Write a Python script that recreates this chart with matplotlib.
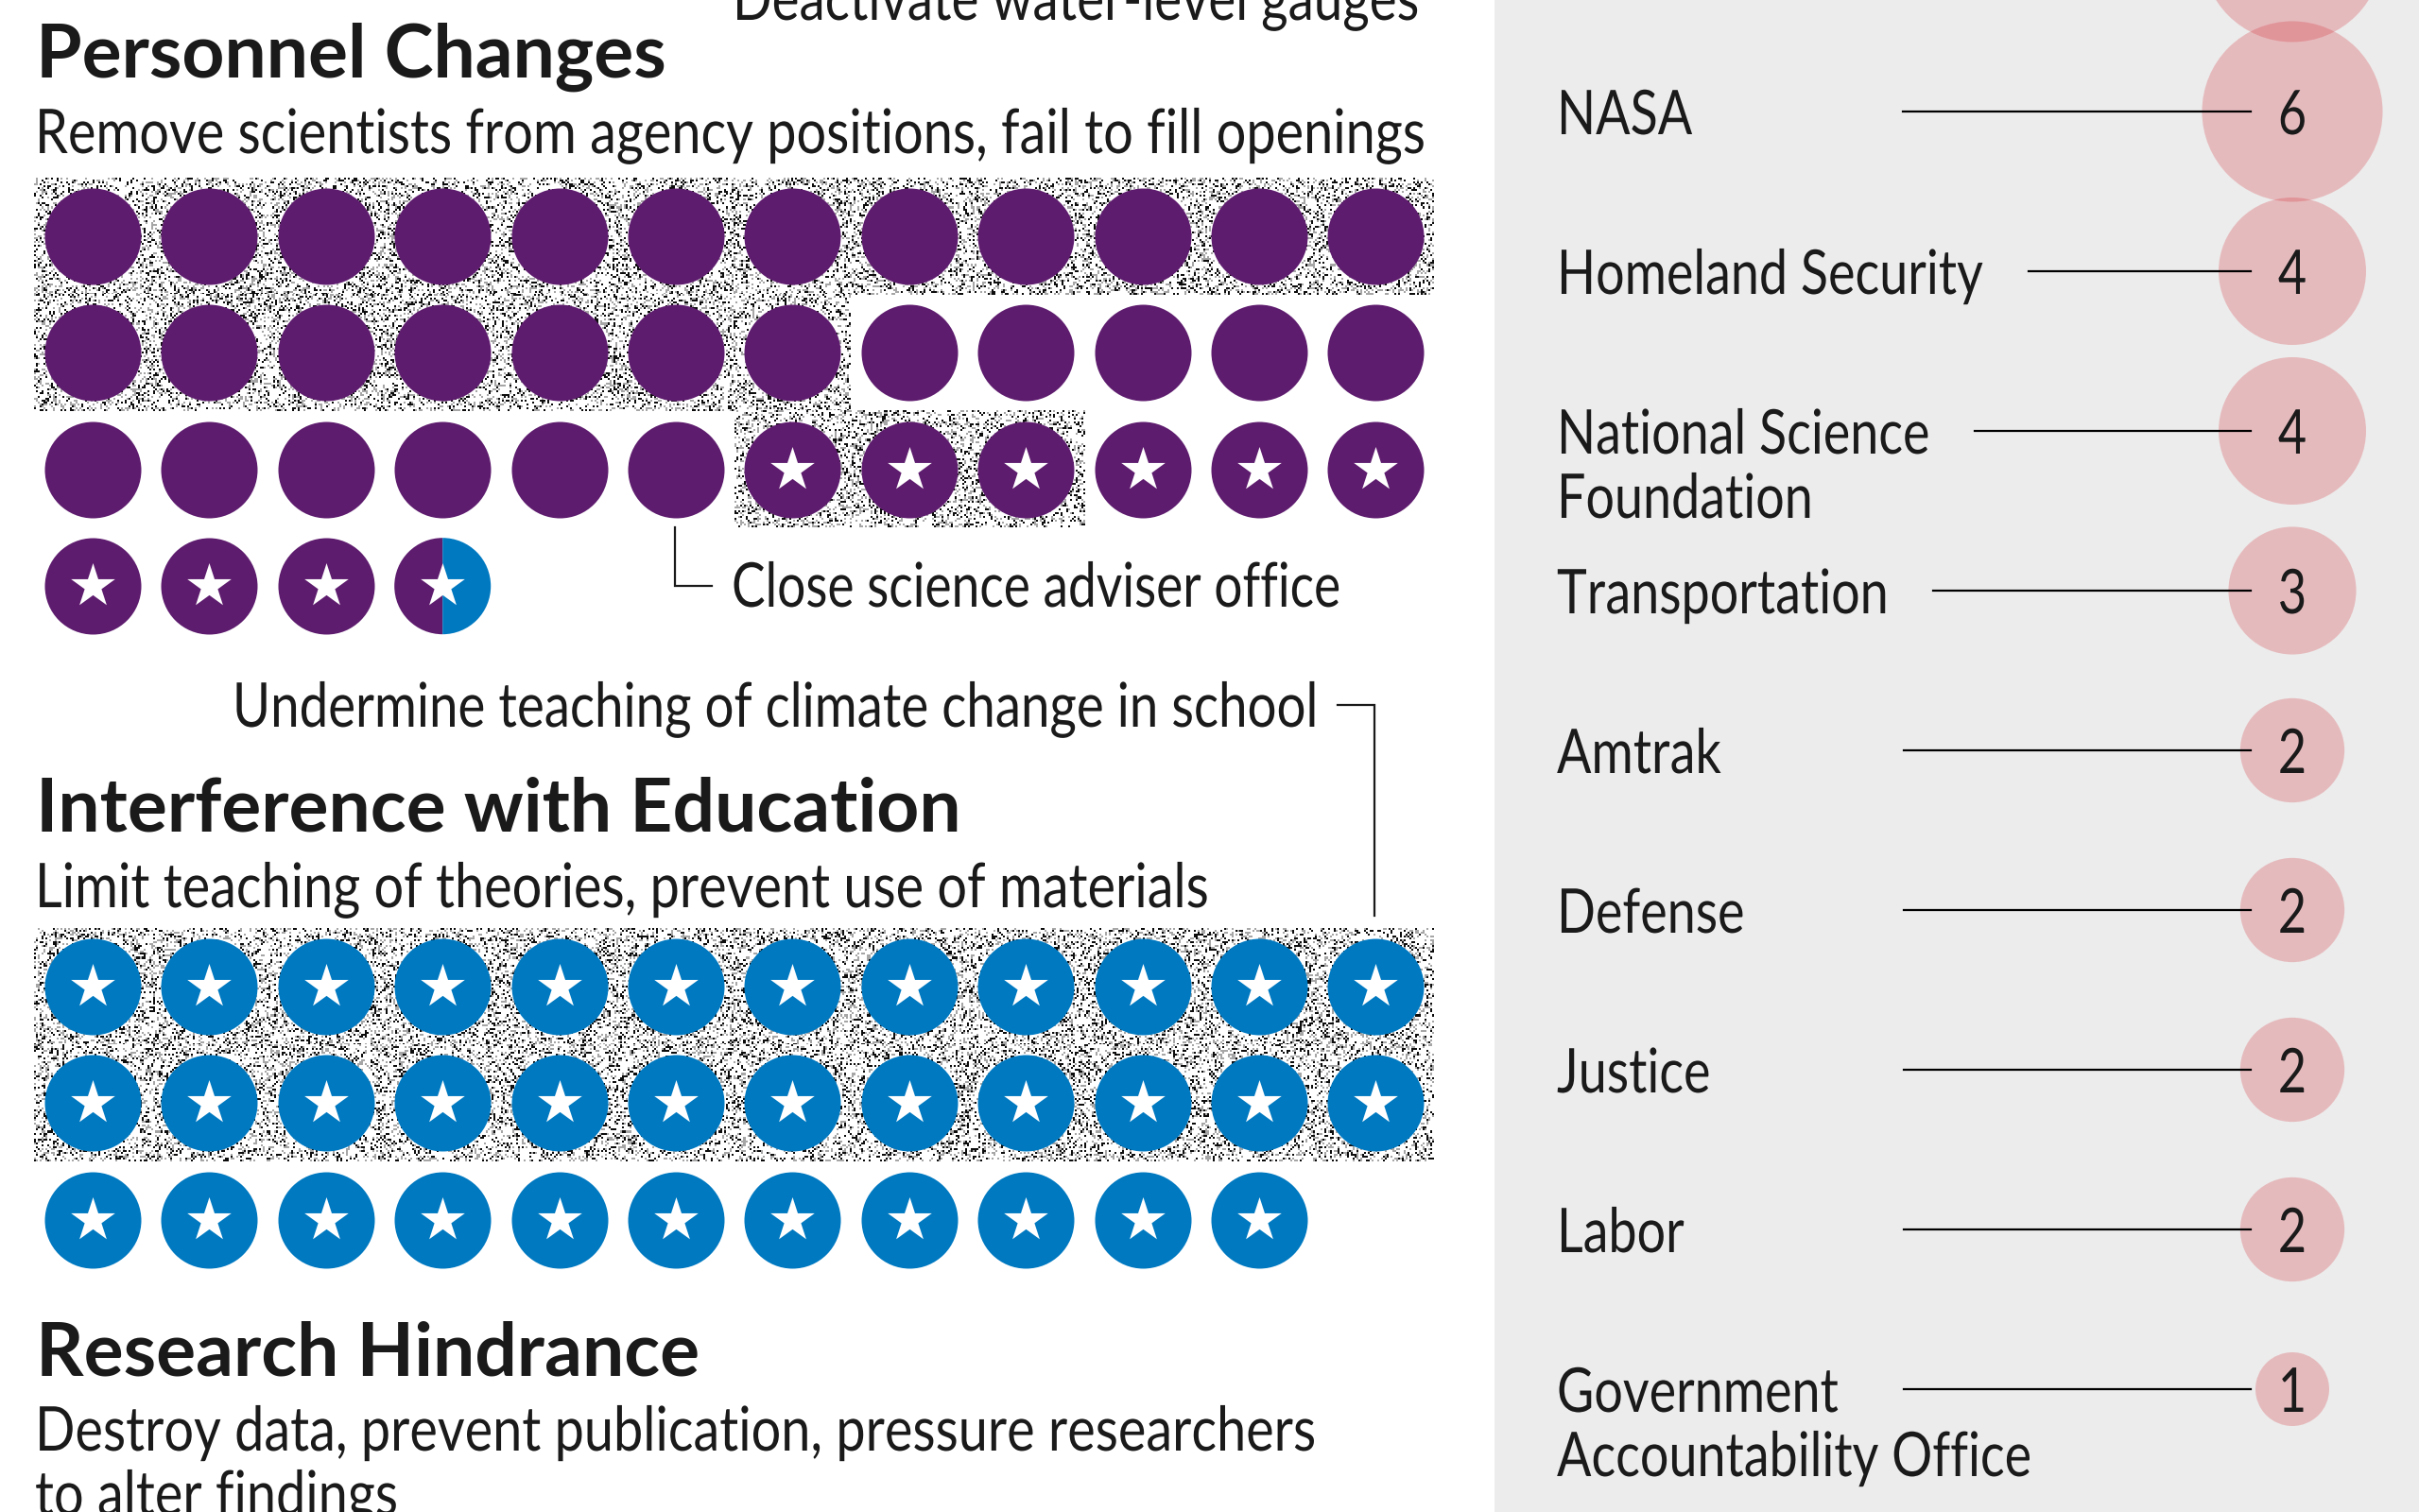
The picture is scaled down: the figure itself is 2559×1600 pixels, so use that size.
import numpy as np
import matplotlib
matplotlib.use("Agg")
import matplotlib.pyplot as plt
from matplotlib.patches import Rectangle, Wedge
from matplotlib.patheffects import AbstractPathEffect
from matplotlib.transforms import Affine2D, Bbox

# left panel: counts of incidents per group
personnel_plain = 30
personnel_star = 9
personnel_half = 1
education_star = 35
speckle_personnel = [(0, 0, 11), (1, 0, 6), (2, 6, 8)]
speckle_education = [(0, 0, 11), (1, 0, 11)]

# right panel: agencies (first row is cut off by the top edge)
agencies = ["", "NASA", "Homeland Security", "National Science\nFoundation",
            "Transportation", "Amtrak", "Defense", "Justice", "Labor",
            "Government\nAccountability Office"]
agency_counts = [6, 6, 4, 4, 3, 2, 2, 2, 2, 1]
line_starts = [None, 2013, 2146, 2089, 2045, 2014, 2014, 2014, 2014, 2014]

PURPLE = "#5E1C6E"
BLUE = "#0079C1"
INK = "#1A1A1A"
FONT = "Lato"
BODY_SIZE = 47
NARROW = 0.855

X0, DX = 98.0, 123.4
R = 51.0
DOT_S = (2 * R * 72 / 100) ** 2
STAR_S = (49 * 72 / 100) ** 2


class Squeeze(AbstractPathEffect):
    """Narrow a text horizontally around its anchor, no condensed font here."""

    def __init__(self, x, sx):
        super().__init__()
        self.x = x
        self.sx = sx

    def draw_path(self, renderer, gc, tpath, affine, rgbFace=None):
        squeezed = affine + Affine2D().translate(-self.x, 0).scale(self.sx, 1).translate(self.x, 0)
        renderer.draw_path(gc, tpath, squeezed, rgbFace)


fig = plt.figure(figsize=(25.59, 16), dpi=100, facecolor="white")
ax = fig.add_axes([0, 0, 1, 1])
ax.axis("off")


def body(x, y, s, ha="left", sx=NARROW):
    t = ax.text(x, y, s, family=FONT, fontsize=BODY_SIZE, color=INK, ha=ha, va="baseline",
                zorder=4, path_effects=[Squeeze(x, sx)])
    full_extent = t.get_window_extent

    # report the drawn width, not the width before squeezing
    def drawn_extent(renderer=None, dpi=None):
        b = full_extent(renderer, dpi)
        return Bbox.from_extents(x + (b.x0 - x) * sx, b.y0, x + (b.x1 - x) * sx, b.y1)

    t.get_window_extent = drawn_extent


def speckle(cells, y0):
    # background grain only, hashed from the cell index
    for row, c0, c1 in cells:
        x = X0 + c0 * DX - DX / 2
        y = y0 + row * DX - DX / 2
        w = (c1 - c0 + 1) * DX
        j, i = np.mgrid[0:int(DX / 2), 0:int(w / 2)]
        h = np.sin((i + x) * 12.9898 + (j + y) * 78.233) * 43758.5453
        h -= np.floor(h)
        tex = np.where(h < 0.15, 0.05, np.where(h < 0.32, 0.65, 1.0))
        ax.imshow(tex, cmap="gray", vmin=0, vmax=1, extent=(x, x + w, y + DX, y),
                  aspect="auto", interpolation="nearest", zorder=1)


def dots(n, start, y0, color, star):
    idx = np.arange(start, start + n)
    xs = X0 + (idx % 12) * DX
    ys = y0 + (idx // 12) * DX
    ax.scatter(xs, ys, s=DOT_S, color=color, lw=0, zorder=2)
    if star:
        ax.scatter(xs, ys, s=STAR_S, marker="*", color="white", lw=0, zorder=3)


# personnel
y_p = 250.0
speckle(speckle_personnel, y_p)
dots(personnel_plain, 0, y_p, PURPLE, False)
dots(personnel_star, personnel_plain, y_p, PURPLE, True)
half_i = personnel_plain + personnel_star
hx, hy = X0 + (half_i % 12) * DX, y_p + (half_i // 12) * DX
ax.add_patch(Wedge((hx, hy), R, 90, 270, facecolor=PURPLE, lw=0, zorder=2))
ax.add_patch(Wedge((hx, hy), R, 270, 90, facecolor=BLUE, lw=0, zorder=2))
ax.scatter([hx], [hy], s=STAR_S, marker="*", color="white", lw=0, zorder=3)

# education
y_e = 1044.0
speckle(speckle_education, y_e)
dots(education_star, 0, y_e, BLUE, True)

# left text
for txt, y in [("Personnel Changes", 82), ("Interference with Education", 879),
               ("Research Hindrance", 1455)]:
    ax.text(38, y, txt, family=FONT, weight="bold", fontsize=56.5, color=INK, va="baseline")
for txt, y in [("Remove scientists from agency positions, fail to fill openings", 162),
               ("Limit teaching of theories, prevent use of materials", 960),
               ("Destroy data, prevent publication, pressure researchers", 1535),
               ("to alter findings", 1603)]:
    body(37, y, txt)
body(775, 21, "Deactivate water-level gauges", sx=0.838)
body(774, 642, "Close science adviser office", sx=0.816)
body(1394, 769, "Undermine teaching of climate change in school", ha="right", sx=0.837)
ax.plot([714, 714, 753], [558, 620, 620], color=INK, lw=1.6, solid_joinstyle="miter")
ax.plot([1415, 1454, 1454], [746, 746, 969], color=INK, lw=1.6, solid_joinstyle="miter")

# right panel
ax.add_patch(Rectangle((1581, 0), 978, 1600, facecolor="#ECECEC", lw=0, zorder=0))
y_rows = -51 + 169 * np.arange(len(agencies))
cx = 2425
for name, n, x0, y in zip(agencies, agency_counts, line_starts, y_rows):
    r = 39 * np.sqrt(n)
    ax.add_patch(plt.Circle((cx, y), r, facecolor="#D42831", alpha=0.25, lw=0, zorder=2))
    if x0 is None:
        continue
    ax.plot([x0, 2381], [y, y], color="black", lw=1.6, zorder=3)
    body(cx, y + 24, str(n), ha="center", sx=0.8)
    for i, part in enumerate(name.split("\n")):
        body(1647, y + 24 + 68 * i, part, sx=0.825)

ax.set_xlim(0, 2559)
ax.set_ylim(1600, 0)
fig.savefig("out.png", dpi=100)
